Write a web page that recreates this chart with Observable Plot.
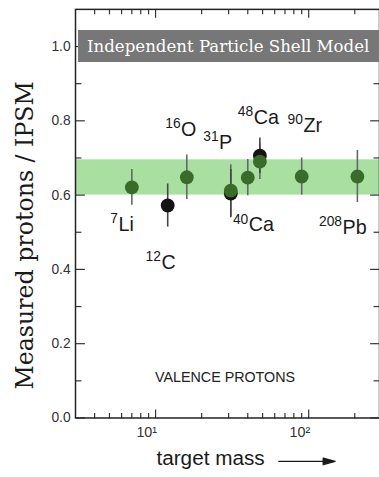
<!DOCTYPE html>
<html>
<head>
<meta charset="utf-8">
<script src="https://cdn.jsdelivr.net/npm/d3@7"></script>
<script src="https://cdn.jsdelivr.net/npm/@observablehq/plot@0.6"></script>
<style>
  html, body { margin: 0; padding: 0; background: #fff; overflow: hidden; }
  #wrap { position: relative; width: 379px; height: 477px; overflow: hidden; }
  #title {
    position: absolute; left: 78px; top: 30px; width: 301px; height: 32px;
    background: #777; color: #fff; font-family: "DejaVu Serif", serif;
    font-size: 16.6px; line-height: 34px; padding-left: 9px; box-sizing: border-box;
    white-space: nowrap; overflow: hidden;
  }
</style>
</head>
<body>
<div id="wrap">
  <div id="chart"></div>
  <div id="title">Independent Particle Shell Model</div>
</div>
<script>
// ---- data ----
const greenMass  = [7, 16, 31, 40, 48, 90, 208];
const greenRatio = [0.621, 0.648, 0.612, 0.647, 0.690, 0.650, 0.650];
const greenErr   = [0.048, 0.060, 0.070, 0.049, 0.048, 0.050, 0.070];

const blackMass  = [12, 31, 48];
const blackRatio = [0.572, 0.604, 0.706];
const blackErr   = [0.058, 0.065, 0.048];

const bandRange = [0.60, 0.695];

const labelMass   = [7, 12, 16, 31, 40, 48, 90, 208];
const labelSymbol = ["Li", "C", "O", "P", "Ca", "Ca", "Zr", "Pb"];
const labelIso    = ["7", "12", "16", "31", "40", "48", "90", "208"];

const xMajorTicks = [10, 100];
const xMinorTicks = [4, 5, 6, 7, 8, 9, 20, 30, 40, 50, 60, 70, 80, 90, 200];
const xTickLabels = ["10¹", "10²"];
const yMajorTicks = [0, 0.2, 0.4, 0.6, 0.8, 1.0];
const yMinorTicks = [0.1, 0.3, 0.5, 0.7, 0.9];

const xLabel = "target mass";
const yLabel = "Measured protons / IPSM";
const note = "VALENCE PROTONS";

// ---- tables built from the arrays ----
const green = greenMass.map((m, i) => ({mass: m, ratio: greenRatio[i], err: greenErr[i]}));
const black = blackMass.map((m, i) => ({mass: m, ratio: blackRatio[i], err: blackErr[i]}));
const labelPointRatio = labelMass.map(m => {
  if (m === 12) return black.find(d => d.mass === m).ratio;
  return green.find(d => d.mass === m).ratio;
});
// label offsets (px) from the point each label belongs to: [dx, dy]
const labelOffsets = [[-13.6, 44.2], [-6.4, 64.3], [-5.8, -42.1], [-11.9, -42.7],
                      [1, 54.5], [-6.3, -38.3], [1.8, -45.4], [-15.1, 58.6]];

const sans = "'Liberation Sans', Arial, Helvetica, sans-serif";
const ink = "#1a1a1a";
const tickInk = "#333";

const labelMarks = labelMass.flatMap((m, i) => {
  const d = [{mass: m, ratio: labelPointRatio[i]}];
  const [dx, dy] = labelOffsets[i];
  return [
    Plot.text(d, {x: "mass", y: "ratio", text: () => labelSymbol[i], dx, dy,
      textAnchor: "start", lineAnchor: "bottom", fontSize: 20, fill: ink}),
    Plot.text(d, {x: "mass", y: "ratio", text: () => labelIso[i], dx: dx - 0.5, dy: dy - 8,
      textAnchor: "end", lineAnchor: "bottom", fontSize: 14, fill: ink})
  ];
});

const arrowShape = {
  draw(ctx, l) {
    ctx.moveTo(0, 0);
    ctx.lineTo(0, -l + 11);
    ctx.moveTo(-3.2, -l + 12);
    ctx.lineTo(0, -l);
    ctx.lineTo(3.2, -l + 12);
    ctx.closePath();
  }
};

// inward ticks: the tick shape of the opposite side, placed on this side of the frame
const tickOpts = {fill: "none", stroke: tickInk, strokeWidth: 1.2, label: null};

const chart = Plot.plot({
  width: 384,
  height: 477,
  marginLeft: 76,
  marginRight: 0,
  marginTop: 9,
  marginBottom: 54,
  style: {fontFamily: sans, fontSize: "14px", color: ink, background: "transparent", overflow: "visible"},
  x: {type: "log", domain: [3, 290], axis: null},
  y: {domain: [0, 1.1], axis: null},
  marks: [
    Plot.rect([bandRange], {y1: d => d[0], y2: d => d[1], fill: "#a9e0a2"}),
    // bottom ticks pointing up
    Plot.axisX(xMajorTicks, {anchor: "top", frameAnchor: "bottom", facetAnchor: null, tickSize: 9, ...tickOpts}),
    Plot.axisX(xMinorTicks, {anchor: "top", frameAnchor: "bottom", facetAnchor: null, tickSize: 5.5, ...tickOpts}),
    // top ticks pointing down
    Plot.axisX(xMajorTicks, {anchor: "bottom", frameAnchor: "top", facetAnchor: null, tickSize: 9, ...tickOpts}),
    Plot.axisX(xMinorTicks, {anchor: "bottom", frameAnchor: "top", facetAnchor: null, tickSize: 5.5, ...tickOpts}),
    // left ticks pointing right
    Plot.axisY(yMajorTicks, {anchor: "right", frameAnchor: "left", facetAnchor: null, tickSize: 9, ...tickOpts}),
    Plot.axisY(yMinorTicks, {anchor: "right", frameAnchor: "left", facetAnchor: null, tickSize: 5.5, ...tickOpts}),
    // right ticks pointing left
    Plot.axisY(yMajorTicks, {anchor: "left", frameAnchor: "right", facetAnchor: null, tickSize: 9, ...tickOpts}),
    Plot.axisY(yMinorTicks, {anchor: "left", frameAnchor: "right", facetAnchor: null, tickSize: 5.5, ...tickOpts}),
    // tick labels
    Plot.axisY(yMajorTicks, {anchor: "left", tickSize: 0, tickPadding: 5, tickFormat: d3.format(".1f"),
      fontSize: 14, fill: tickInk, label: null}),
    Plot.axisX(xMajorTicks, {anchor: "bottom", tickSize: 0, tickPadding: 9,
      tickFormat: d => xTickLabels[xMajorTicks.indexOf(d)],
      textAnchor: "end", dx: 1.5, fontSize: 14.5, fill: tickInk, label: null}),
    Plot.frame({stroke: "#222", strokeWidth: 1.5}),
    // error bars
    Plot.ruleX(green, {x: "mass", y1: d => d.ratio - d.err, y2: d => d.ratio + d.err, stroke: "#666", strokeWidth: 1.6}),
    Plot.ruleX(black, {x: "mass", y1: d => d.ratio - d.err, y2: d => d.ratio + d.err, stroke: "#444", strokeWidth: 1.6}),
    Plot.dot(black, {x: "mass", y: "ratio", r: 7, fill: "#141414"}),
    Plot.dot(green, {x: "mass", y: "ratio", r: 7, fill: "#3a6b2b"}),
    ...labelMarks,
    // annotations
    Plot.text([note], {frameAnchor: "bottom-left", dx: 151.5, dy: -36, textAnchor: "middle", lineAnchor: "bottom",
      fontSize: 14.5, fill: "#222"}),
    Plot.text([xLabel], {frameAnchor: "bottom-left", dx: 82, dy: 48, textAnchor: "start", lineAnchor: "bottom",
      fontSize: 21, fill: ink}),
    Plot.vector([xLabel], {frameAnchor: "bottom-left", dx: 206, dy: 44, anchor: "start", rotate: 90, length: 57,
      shape: arrowShape, stroke: ink, strokeWidth: 1.4, fill: ink}),
    Plot.text([yLabel], {frameAnchor: "left", dx: -43, dy: 22, rotate: -90, textAnchor: "middle", lineAnchor: "bottom",
      fontSize: 24, fontFamily: "'DejaVu Serif', serif", fill: ink})
  ]
});
document.getElementById("chart").appendChild(chart);
</script>
</body>
</html>
